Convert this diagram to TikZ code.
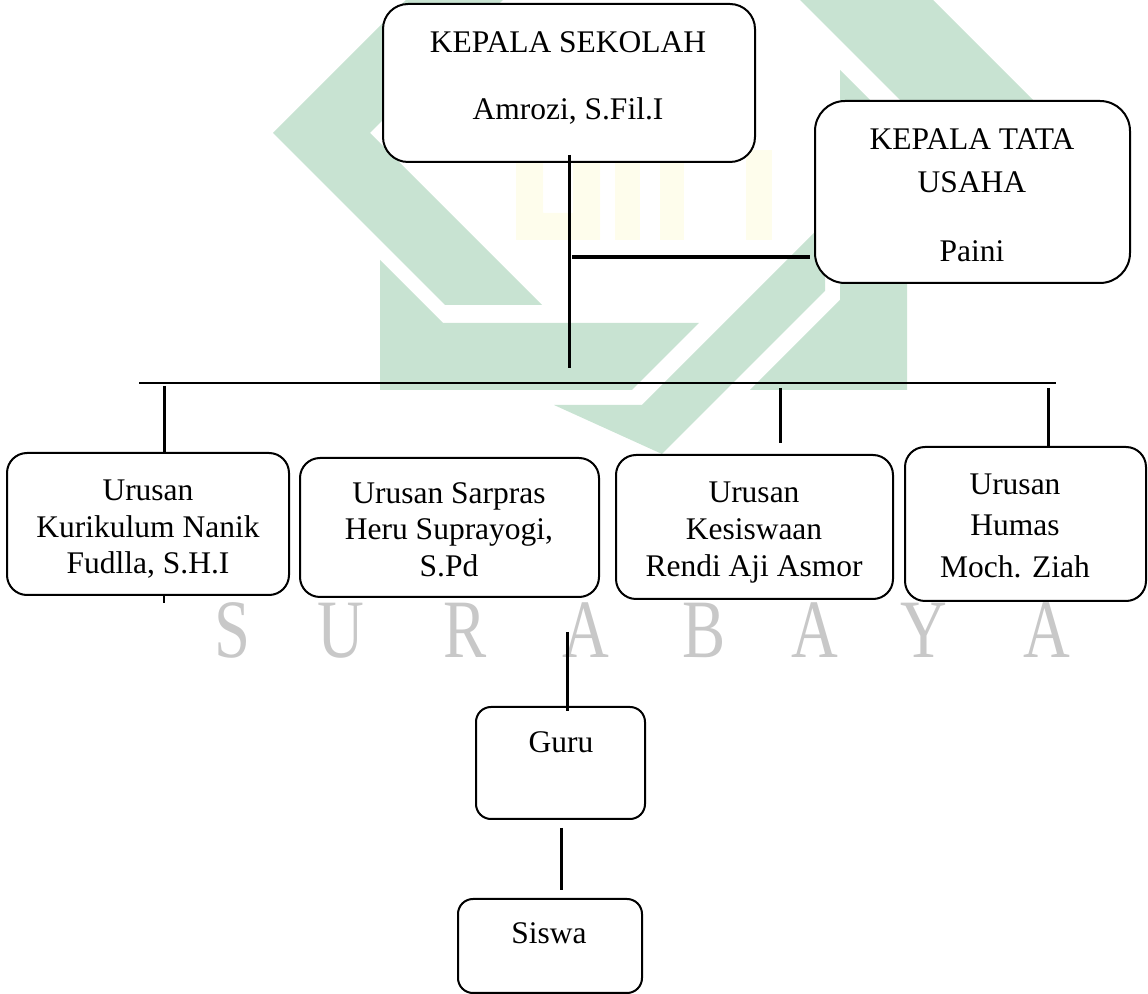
\documentclass[tikz,border=0pt]{standalone}
\usepackage{fontspec}
\setmainfont{Liberation Serif}
\usetikzlibrary{fit}
\definecolor{wmgreen}{RGB}{200,227,210}
\definecolor{wmyellow}{RGB}{254,253,236}
\definecolor{wmgray}{RGB}{200,200,200}
\begin{document}
\begin{tikzpicture}[x=0.5pt,y=-0.5pt,
  box/.style={draw, line width=1pt, fill=white, inner sep=0pt, rounded corners=#1},
  box/.default=10pt,
  txt/.style={anchor=base, inner sep=0pt, font=\fontsize{15.75pt}{18pt}\selectfont},
  wmletter/.style={anchor=base, inner sep=0pt, text=wmgray, xscale=0.78,
    font=\fontsize{41.5pt}{41.5pt}\selectfont},
  conn/.style={line width=1.5pt},
  bus/.style={line width=1pt},
  thinconn/.style={line width=0.75pt},
  tuconn/.style={line width=1.7pt}]
\useasboundingbox (0,0) rectangle (1148,994);
% ---- watermark (logo) ----
\fill[wmgreen] (411,-5) -- (273,133) -- (445,305) -- (542,305) -- (370,133) -- (508,-5) -- cycle;
\fill[wmgreen] (380,260) -- (380,390) -- (632,390) -- (699,323) -- (443,323) -- cycle;
\fill[wmgreen] (554,405) -- (642,405) -- (825,222) -- (825,291) -- (662,454) -- cycle;
\fill[wmgreen] (840,70) -- (907,137) -- (907,390) -- (750,390) -- (840,300) -- cycle;
\fill[wmgreen] (795,-5) -- (928,-5) -- (1040,107) -- (907,107) -- cycle;
\fill[wmyellow, even odd rule] (516,150) rectangle (600,240) (543,150) rectangle (573,213);
\fill[wmyellow] (615,150) rectangle (640,240);
\fill[wmyellow] (660,150) rectangle (684,240);
\fill[wmyellow] (746,150) rectangle (772,240);
% ---- watermark letters ----
\node[wmletter] (wm1) at (233,658) {S};
\node[wmletter] (wm2) at (341,658) {U};
\node[wmletter] (wm3) at (465,658) {R};
\node[wmletter] (wm4) at (586,658) {A};
\node[wmletter] (wm5) at (704,658) {B};
\node[wmletter] (wm6) at (815,658) {A};
\node[wmletter] (wm7) at (924,658) {Y};
\node[wmletter] (wm8) at (1047,658) {A};
% ---- boxes ----
\node[box=12.5pt, fit={(383,4) (755,162)}] (ks) {};
\node[box=15pt, fit={(815,101) (1130,283)}] (tu) {};
\node[box, fit={(7,453) (289,595)}] (b1) {};
\node[box, fit={(300,458) (599,597)}] (b2) {};
\node[box, fit={(616,455) (893,599)}] (b3) {};
\node[box, fit={(905,447) (1146,601)}] (b4) {};
\node[box=7.5pt, fit={(476,707) (645,819)}] (guru) {};
\node[box=7.5pt, fit={(458,899) (642,993)}] (siswa) {};
% ---- texts ----
\node[txt] (ks1) at (568,53) {KEPALA SEKOLAH};
\node[txt] (ks2) at (568,120) {Amrozi, S.Fil.I};
\node[txt] (tu1) at (972,150) {KEPALA TATA};
\node[txt] (tu2) at (972,193) {USAHA};
\node[txt] (tu3) at (972,262) {Paini};
\node[txt] (b1a) at (148,501) {Urusan};
\node[txt] (b1b) at (148,538) {Kurikulum Nanik};
\node[txt] (b1c) at (148,574) {Fudlla, S.H.I};
\node[txt] (b2a) at (449,504) {Urusan Sarpras};
\node[txt] (b2b) at (449,540) {Heru Suprayogi,};
\node[txt] (b2c) at (449,577) {S.Pd};
\node[txt] (b3a) at (754,503) {Urusan};
\node[txt] (b3b) at (754,540) {Kesiswaan};
\node[txt] (b3c) at (754,577) {Rendi Aji Asmor};
\node[txt] (b4a) at (1015,495) {Urusan};
\node[txt] (b4b) at (1015,536) {Humas};
\node[txt] (b4c) at (1015,578) {Moch. Ziah};
\node[txt] (gurut) at (561,753) {Guru};
\node[txt] (siswat) at (549,944) {Siswa};
% ---- connector points ----
\coordinate (stemTop) at (569,155);
\coordinate (stemEnd) at (569,368);
\coordinate (tuL) at (572,257);
\coordinate (tuR) at (810,257);
\coordinate (busL) at (139,383);
\coordinate (busR) at (1056,383);
\coordinate (d1) at (164,386);
\coordinate (d1b) at (164,603);
\coordinate (d3a) at (780,388);
\coordinate (d3b) at (780,443);
\coordinate (d4) at (1048,388);
\coordinate (g0) at (567,632);
\coordinate (g1) at (567,711);
\coordinate (s0) at (561,828);
\coordinate (s1) at (561,890);
% ---- connectors ----
\draw[conn] (stemTop) -- (stemEnd);
\draw[tuconn] (tuL) -- (tuR);
\draw[bus] (busL) -- (busR);
\draw[conn] (d1) -- (d1 |- b1.north);
\draw[thinconn] (d1 |- b1.south) -- (d1b);
\draw[conn] (d3a) -- (d3b);
\draw[conn] (d4) -- (d4 |- b4.north);
\draw[conn] (g0) -- (g1);
\draw[conn] (s0) -- (s1);
\end{tikzpicture}
\end{document}
